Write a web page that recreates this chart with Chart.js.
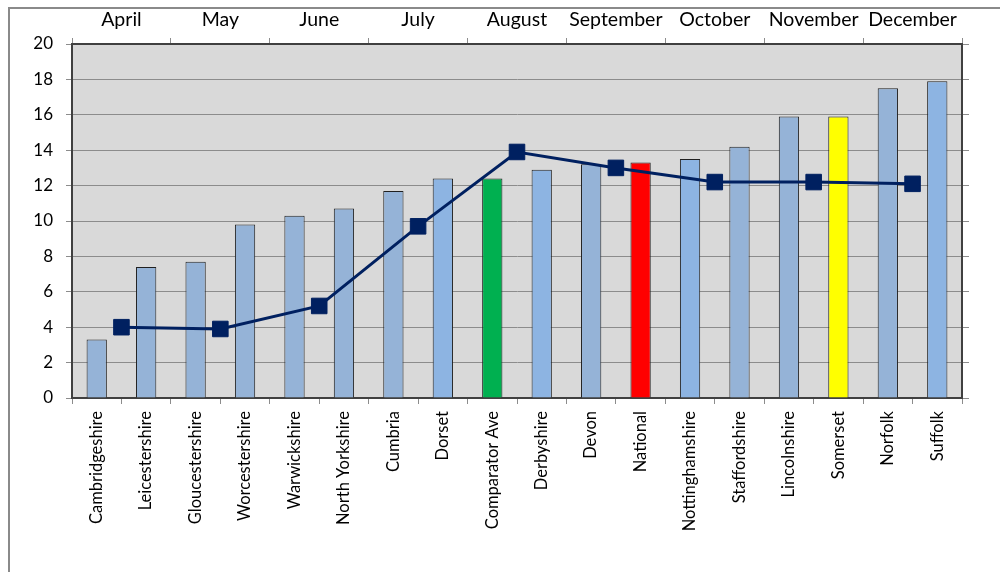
<!DOCTYPE html>
<html>
<head>
<meta charset="utf-8">
<script src="https://cdn.jsdelivr.net/npm/chart.js@4/dist/chart.umd.min.js"></script>
<style>
  html, body { margin: 0; padding: 0; background: #fff; }
  #wrap { position: relative; width: 1000px; height: 572px; overflow: hidden; }
  #frame { position: absolute; left: 8px; top: 7px; width: 1100px; height: 700px;
           border-left: 2px solid #8a8a8a; border-top: 2px solid #8a8a8a; }
  canvas { position: absolute; left: 0; top: 0; }
</style>
</head>
<body>
<div id="wrap">
  <div id="frame"></div>
  <canvas id="chart" width="1000" height="572"></canvas>
</div>
<script>
// counties along the bottom
const counties = [
  "Cambridgeshire", "Leicestershire", "Gloucestershire", "Worcestershire",
  "Warwickshire", "North Yorkshire", "Cumbria", "Dorset", "Comparator Ave",
  "Derbyshire", "Devon", "National", "Nottinghamshire", "Staffordshire",
  "Lincolnshire", "Somerset", "Norfolk", "Suffolk"
];
const countyValues = [
  3.3, 7.4, 7.7, 9.8, 10.3, 10.7, 11.7, 12.4, 12.4,
  12.9, 13.2, 13.3, 13.5, 14.2, 15.9, 15.9, 17.5, 17.9
];

// months along the top
const months = [
  "April", "May", "June", "July", "August",
  "September", "October", "November", "December"
];
const monthValues = [4.0, 3.9, 5.2, 9.7, 13.9, 13.0, 12.2, 12.2, 12.1];

const yTicks = [0, 2, 4, 6, 8, 10, 12, 14, 16, 18, 20];

const muted = "#95b3d7";
const bright = "#8db4e2";
const barColors = [
  muted, muted, muted, muted, muted, muted, muted, bright, "#00b050",
  bright, muted, "#ff0000", bright, muted, muted, "#ffff00", muted, bright
];

const FONT = "Lato";
const AXIS = "#404040";
const GRID = "#8c8c8c";

new Chart(document.getElementById("chart"), {
  type: "bar",
  data: {
    datasets: [
      {
        type: "line",
        data: monthValues,
        xAxisID: "x2",
        yAxisID: "y",
        borderColor: "#002060",
        backgroundColor: "#002060",
        borderWidth: 3,
        pointStyle: "rect",
        pointRadius: 11,
        pointBorderWidth: 1,
        tension: 0,
        order: 0
      },
      {
        type: "bar",
        data: countyValues,
        xAxisID: "x",
        yAxisID: "y",
        backgroundColor: barColors,
        borderColor: "#202020",
        borderWidth: 1,
        grouped: false,
        barPercentage: 0.41,
        categoryPercentage: 1,
        order: 1
      }
    ]
  },
  options: {
    responsive: false,
    animation: false,
    layout: { padding: 0 },
    plugins: {
      legend: { display: false },
      tooltip: { enabled: false }
    },
    scales: {
      x: {
        type: "category",
        labels: counties,
        position: "bottom",
        offset: true,
        grid: { offset: true, drawOnChartArea: false, tickLength: 6, color: GRID },
        border: { color: AXIS, width: 2 },
        ticks: {
          minRotation: 90, maxRotation: 90, autoSkip: false, padding: 7,
          color: "#000", font: { family: FONT, size: 16.5 }
        },
        afterFit: (s) => { s.height = 174; }
      },
      x2: {
        type: "category",
        labels: months,
        position: "top",
        offset: true,
        grid: { offset: true, drawOnChartArea: false, tickLength: 6, color: GRID },
        border: { color: AXIS, width: 2 },
        ticks: {
          maxRotation: 0, autoSkip: false, padding: 7,
          color: "#000", font: { family: FONT, size: 19.5 }
        },
        afterFit: (s) => { s.height = 44; }
      },
      y: {
        position: "left",
        min: 0,
        max: 20,
        afterBuildTicks: (s) => { s.ticks = yTicks.map((v) => ({ value: v })); },
        grid: { color: GRID, tickLength: 6 },
        border: { color: AXIS, width: 2 },
        ticks: { padding: 13, color: "#000", font: { family: FONT, size: 17 } },
        afterFit: (s) => { s.width = 72; }
      },
      y2: {
        position: "right",
        min: 0,
        max: 20,
        afterBuildTicks: (s) => { s.ticks = yTicks.map((v) => ({ value: v })); },
        grid: { drawOnChartArea: false, color: GRID, tickLength: 7 },
        border: { color: AXIS, width: 2 },
        ticks: { display: false },
        afterFit: (s) => { s.width = 38; }
      }
    }
  },
  plugins: [{
    id: "plotBg",
    beforeDraw(chart) {
      const { ctx, chartArea: a } = chart;
      ctx.save();
      ctx.fillStyle = "#d9d9d9";
      ctx.fillRect(a.left, a.top, a.right - a.left, a.bottom - a.top);
      ctx.restore();
    }
  }]
});
</script>
</body>
</html>
